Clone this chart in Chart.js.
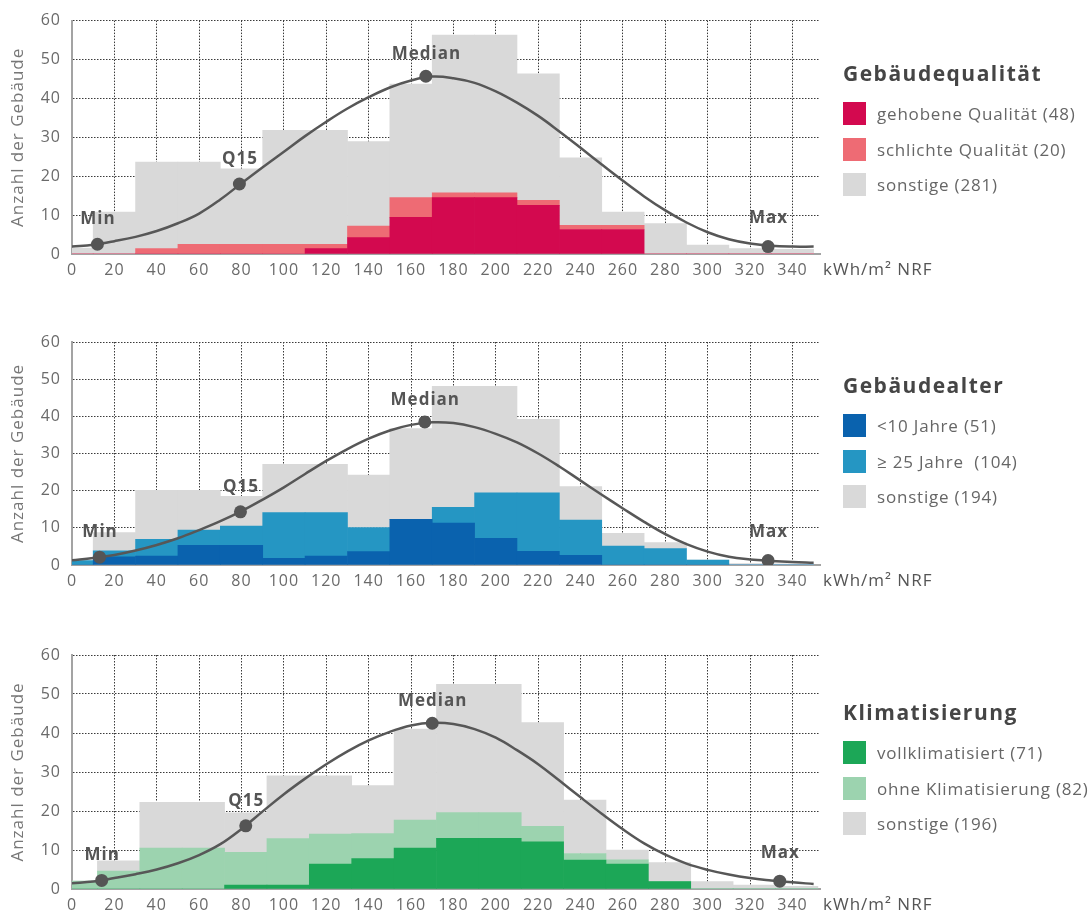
<!DOCTYPE html>
<html lang="de">
<head>
<meta charset="utf-8">
<script src="https://cdn.jsdelivr.net/npm/chart.js@4.4.1/dist/chart.umd.min.js"></script>
<style>
  html, body { margin: 0; padding: 0; background: #fff; }
  #wrap { position: relative; width: 1091px; height: 917px; overflow: hidden; font-family: "Open Sans", Lato, sans-serif; }
  canvas { position: absolute; left: 0; }
  .legend { position: absolute; left: 843px; width: 248px; }
  .legend .title { font-weight: bold; font-size: 21px; letter-spacing: 1.5px; color: #454545; height: 26px; line-height: 26px; margin-bottom: 16px; white-space: nowrap; }
  .legend .item { display: flex; align-items: center; height: 23px; margin-bottom: 12.5px; }
  .legend .sw { width: 23px; height: 23px; flex: none; }
  .legend .tx { margin-left: 11px; font-size: 17px; letter-spacing: 0.8px; color: #666; white-space: pre; }
</style>
</head>
<body>
<div id="wrap">
  <canvas id="c1" width="1091" height="300" style="top:0px"></canvas>
  <canvas id="c2" width="1091" height="300" style="top:310px"></canvas>
  <canvas id="c3" width="1091" height="287" style="top:630px"></canvas>
  <div class="legend" id="l1" style="top:60px"></div>
  <div class="legend" id="l2" style="top:372px"></div>
  <div class="legend" id="l3" style="top:699px"></div>
</div>
<script>
// ---------- data ----------
const binsStd   = [0, 20, 40, 60, 80, 100, 120, 140, 160, 180, 200, 220, 240, 260, 280, 300, 320, 340];
const binsKlima = [2, 22, 42, 62, 82, 102, 122, 142, 162, 182, 202, 222, 242, 262, 282, 302, 322, 342];
const xTickValues = [0, 20, 40, 60, 80, 100, 120, 140, 160, 180, 200, 220, 240, 260, 280, 300, 320, 340];
const yTickValues = [0, 10, 20, 30, 40, 50, 60];

const curveX = [0, 10, 20, 30, 40, 50, 60, 70, 80, 90, 100, 110, 120, 130, 140, 150, 160, 170,
                180, 190, 200, 210, 220, 230, 240, 250, 260, 270, 280, 290, 300, 310, 320, 330, 340, 350];

// Panel 1: Gebäudequalität
const gehobene  = [0, 0, 0, 0, 0, 0, 1.4, 4.2, 9.4, 14.5, 14.5, 12.5, 6.3, 6.3, 0, 0, 0, 0];
const schlichte = [0, 0, 1.4, 2.5, 2.5, 2.5, 1.1, 3.0, 5.1, 1.2, 1.2, 1.3, 1.1, 1.1, 0, 0, 0, 0];
const sonstigeQ = [1.5, 10.8, 22.2, 21.1, 19.4, 29.3, 29.3, 21.7, 29.2, 40.6, 40.6, 32.5, 17.3, 3.4, 7.8, 2.3, 1.4, 1.2];
const curveQ = [1.9, 2.4, 3.3, 4.4, 5.9, 7.9, 10.4, 14.0, 18.2, 22.3, 26.3, 30.3, 34.0, 37.4, 40.3, 42.8, 44.6, 45.6,
                45.2, 44.0, 41.8, 38.9, 35.5, 31.5, 27.3, 23.0, 18.8, 14.8, 11.2, 8.1, 5.6, 3.8, 2.7, 2.1, 1.9, 1.9];
const statsQx = [12, 79, 167, 328.5];
const statsQy = [2.5, 18.0, 45.7, 1.9];

// Panel 2: Gebäudealter
const jung      = [0, 2.2, 2.4, 5.3, 5.3, 1.8, 2.4, 3.6, 12.3, 11.3, 7.2, 3.7, 2.6, 0, 0, 0, 0, 0];
const alt       = [1.2, 1.6, 4.5, 4.1, 5.2, 12.3, 11.7, 6.5, 0, 4.2, 12.2, 15.7, 9.5, 5.1, 4.4, 1.3, 0, 0];
const sonstigeA = [0, 4.9, 13.2, 10.7, 8.0, 13.0, 13.0, 14.1, 24.4, 32.6, 28.7, 19.8, 9.0, 3.4, 1.6, 0, 0.4, 0.3];
const curveA = [1.3, 1.9, 2.7, 3.9, 5.4, 7.2, 9.4, 11.8, 14.5, 17.6, 20.9, 24.5, 28.0, 31.2, 34.0, 36.2, 37.7, 38.4,
                38.2, 37.1, 35.3, 33.0, 30.0, 26.5, 22.7, 18.9, 15.2, 11.6, 8.3, 5.6, 3.6, 2.2, 1.5, 1.1, 0.8, 0.6];
const statsAx = [13, 79.5, 166.5, 328.5];
const statsAy = [2.1, 14.3, 38.5, 1.2];

// Panel 3: Klimatisierung
const voll      = [0, 0, 0, 0, 1.0, 1.0, 6.4, 7.8, 10.5, 13.0, 13.0, 12.1, 7.4, 6.4, 1.9, 0, 0, 0];
const ohne      = [2.0, 4.6, 10.5, 10.5, 8.4, 11.9, 7.7, 6.4, 7.2, 6.6, 6.6, 4.0, 1.7, 1.1, 0, 0, 0, 0];
const sonstigeK = [0, 2.6, 11.7, 11.7, 10.1, 16.1, 14.9, 12.3, 23.3, 32.9, 32.9, 26.6, 13.7, 2.5, 4.9, 1.9, 1.0, 0.7];
const curveK = [1.5, 1.9, 2.8, 3.8, 5.0, 6.6, 8.7, 11.5, 15.4, 19.9, 24.3, 28.3, 32.0, 35.3, 38.1, 40.3, 41.9, 42.6,
                42.3, 41.0, 38.8, 35.6, 32.0, 27.8, 23.5, 19.3, 15.3, 11.7, 8.8, 6.5, 4.9, 3.7, 2.8, 2.2, 1.7, 1.3];
const statsKx = [14, 82, 170, 334];
const statsKy = [2.2, 16.2, 42.5, 2.0];

const statLabels = ['Min', 'Q15', 'Median', 'Max'];

const legendTitles = ['Gebäudequalität', 'Gebäudealter', 'Klimatisierung'];
const legendQ = ['gehobene Qualität (48)', 'schlichte Qualität (20)', 'sonstige (281)'];
const legendA = ['<10 Jahre (51)', '\u2265 25 Jahre  (104)', 'sonstige (194)'];
const legendK = ['vollklimatisiert (71)', 'ohne Klimatisierung (82)', 'sonstige (196)'];

// ---------- styles ----------
const GREY = '#D9D9D9';
const colorsQ = ['#D3094F', '#EE6B74', GREY];
const colorsA = ['#0A62AE', '#2596C3', GREY];
const colorsK = ['#1CA757', '#9CD3AF', GREY];
const FONT = '"Open Sans", Lato, sans-serif';
const labelOffsets = [25, 25, 22, 28];

const spacingPlugin = {
  id: 'spacing',
  beforeDraw(chart) { chart.ctx.letterSpacing = '1px'; }
};
const statLabelPlugin = {
  id: 'statLabels',
  afterDatasetsDraw(chart) {
    const idx = chart.data.datasets.findIndex(d => d.isStats);
    const meta = chart.getDatasetMeta(idx);
    const ctx = chart.ctx;
    ctx.save();
    ctx.letterSpacing = '1px';
    ctx.font = 'bold 17px ' + FONT;
    ctx.fillStyle = '#555';
    ctx.textAlign = 'center';
    ctx.textBaseline = 'middle';
    meta.data.forEach((pt, i) => {
      ctx.fillText(statLabels[i], pt.x + 0.5, pt.y - labelOffsets[i]);
    });
    ctx.restore();
  }
};
const unitPlugin = {
  id: 'unitLabel',
  afterDraw(chart) {
    const ctx = chart.ctx;
    const a = chart.chartArea;
    ctx.save();
    ctx.letterSpacing = '1px';
    ctx.font = '17px ' + FONT;
    ctx.fillStyle = '#555';
    ctx.textAlign = 'left';
    ctx.textBaseline = 'middle';
    ctx.fillText('kWh/m\u00B2 NRF', a.right + 3, a.bottom + 16);
    ctx.restore();
  }
};

function makeChart(id, bins, series, colors, names, cy, sx, sy, padTop, xAxisH) {
  const datasets = series.map((vals, k) => ({
    type: 'bar',
    label: names[k],
    data: bins.map((b, i) => ({ x: b, y: vals[i] })),
    backgroundColor: colors[k],
    borderWidth: 0,
    barPercentage: 1,
    categoryPercentage: 1,
    stack: 'hist',
    order: 2
  }));
  datasets.push({
    type: 'line',
    label: 'Verteilungskurve',
    data: curveX.map((x, i) => ({ x: x, y: cy[i] })),
    borderColor: '#575757',
    borderWidth: 2.5,
    pointRadius: 0,
    tension: 0.4,
    stack: 'curve',
    order: 1
  });
  datasets.push({
    type: 'line',
    label: 'Kennwerte',
    isStats: true,
    data: sx.map((x, i) => ({ x: x, y: sy[i] })),
    showLine: false,
    pointRadius: 6.5,
    pointBackgroundColor: '#555',
    pointBorderWidth: 0,
    stack: 'stats',
    order: 0
  });

  return new Chart(document.getElementById(id), {
    type: 'bar',
    data: { datasets },
    plugins: [spacingPlugin, statLabelPlugin, unitPlugin],
    options: {
      responsive: false,
      animation: false,
      events: [],
      layout: { padding: { top: padTop, left: 0, right: 271, bottom: 0 } },
      plugins: { legend: { display: false }, tooltip: { enabled: false } },
      scales: {
        x: {
          type: 'linear',
          min: 0, max: 353,
          offset: false,
          grid: { offset: false, color: '#3a3a3a', lineWidth: 1, drawTicks: false },
          border: { display: true, color: '#a3a3a3', width: 2, dash: [1.5, 1.5] },
          afterBuildTicks: (axis) => { axis.ticks = xTickValues.map(v => ({ value: v })); },
          afterFit: (axis) => { axis.height = xAxisH; },
          ticks: {
            autoSkip: false, maxRotation: 0, padding: 7,
            color: '#6a6a6a', font: { family: FONT, size: 16 }
          }
        },
        y: {
          stacked: true,
          min: 0, max: 60,
          grid: { color: '#3a3a3a', lineWidth: 1, drawTicks: false },
          border: { display: true, color: '#a3a3a3', width: 2, dash: [1.5, 1.5] },
          afterBuildTicks: (axis) => { axis.ticks = yTickValues.map(v => ({ value: v })); },
          afterFit: (axis) => { axis.width = 72; },
          title: {
            display: true, text: 'Anzahl der Gebäude', color: '#777',
            font: { family: FONT, size: 17 }, padding: { top: 8, bottom: 0 }
          },
          ticks: {
            padding: 11,
            color: '#6a6a6a', font: { family: FONT, size: 16 }
          }
        }
      }
    }
  });
}

function makeLegend(id, title, names, colors) {
  const el = document.getElementById(id);
  const t = document.createElement('div');
  t.className = 'title';
  t.textContent = title;
  el.appendChild(t);
  names.forEach((n, i) => {
    const it = document.createElement('div');
    it.className = 'item';
    const sw = document.createElement('div');
    sw.className = 'sw';
    sw.style.background = colors[i];
    const tx = document.createElement('div');
    tx.className = 'tx';
    tx.textContent = n;
    it.appendChild(sw); it.appendChild(tx);
    el.appendChild(it);
  });
}

makeChart('c1', binsStd, [gehobene, schlichte, sonstigeQ], colorsQ, legendQ, curveQ, statsQx, statsQy, 19, 46);
makeChart('c2', binsStd, [jung, alt, sonstigeA], colorsA, legendA, curveA, statsAx, statsAy, 32, 45);
makeChart('c3', binsKlima, [voll, ohne, sonstigeK], colorsK, legendK, curveK, statsKx, statsKy, 25, 28);

makeLegend('l1', legendTitles[0], legendQ, colorsQ);
makeLegend('l2', legendTitles[1], legendA, colorsA);
makeLegend('l3', legendTitles[2], legendK, colorsK);
</script>
</body>
</html>
